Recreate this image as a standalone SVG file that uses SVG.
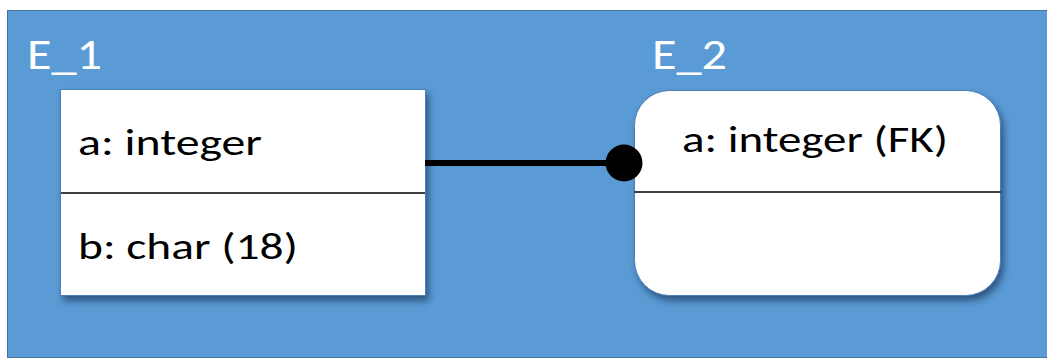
<svg xmlns="http://www.w3.org/2000/svg" width="1047" height="360" viewBox="0 0 1047 360">
<defs>
<filter id="sh" x="-10%" y="-10%" width="125%" height="130%">
<feGaussianBlur in="SourceAlpha" stdDeviation="3.5"/>
<feOffset dx="3" dy="5" result="b"/>
<feFlood flood-color="#1f3f66" flood-opacity="0.75"/>
<feComposite in2="b" operator="in"/>
<feMerge><feMergeNode/><feMergeNode in="SourceGraphic"/></feMerge>
</filter>
<style>
.lbl{font-family:Carlito,"Open Sans","Liberation Sans",sans-serif;font-size:43px;fill:#ffffff}
.txt{font-family:Carlito,"Open Sans","Liberation Sans",sans-serif;font-size:36px;fill:#000000}
.box{fill:#ffffff;stroke:#4a7fb5;stroke-width:1}
.div{stroke:#404040;stroke-width:2}
</style>
</defs>
<rect x="0" y="0" width="1047" height="360" fill="#ffffff"/>
<rect x="7.5" y="10.5" width="1045" height="347" fill="#5b9bd5" stroke="#41719c" stroke-width="1"/>
<text class="lbl" x="27" y="69" textLength="75" lengthAdjust="spacingAndGlyphs">E_1</text>
<text class="lbl" x="652" y="69" textLength="75" lengthAdjust="spacingAndGlyphs">E_2</text>
<g id="E_1">
<rect class="box" x="60.5" y="89.5" width="365" height="206" filter="url(#sh)"/>
<line class="div" x1="61" y1="193" x2="425" y2="193" stroke="#7f9fbf"/>
<text class="txt" x="78" y="155" textLength="184" lengthAdjust="spacingAndGlyphs">a: integer</text>
<text class="txt" x="78" y="259" textLength="220" lengthAdjust="spacingAndGlyphs">b: char (18)</text>
</g>
<g id="E_2">
<rect class="box" x="634.5" y="90.5" width="366" height="205" rx="35" ry="35" filter="url(#sh)"/>
<line class="div" x1="634" y1="192" x2="1001" y2="192"/>
<text class="txt" x="682" y="152" textLength="266" lengthAdjust="spacingAndGlyphs">a: integer (FK)</text>
</g>
<g id="connectors">
<line x1="425" y1="163" x2="622" y2="163" stroke="#000000" stroke-width="6"/>
<circle cx="624" cy="163" r="18.5" fill="#000000"/>
</g>
</svg>
